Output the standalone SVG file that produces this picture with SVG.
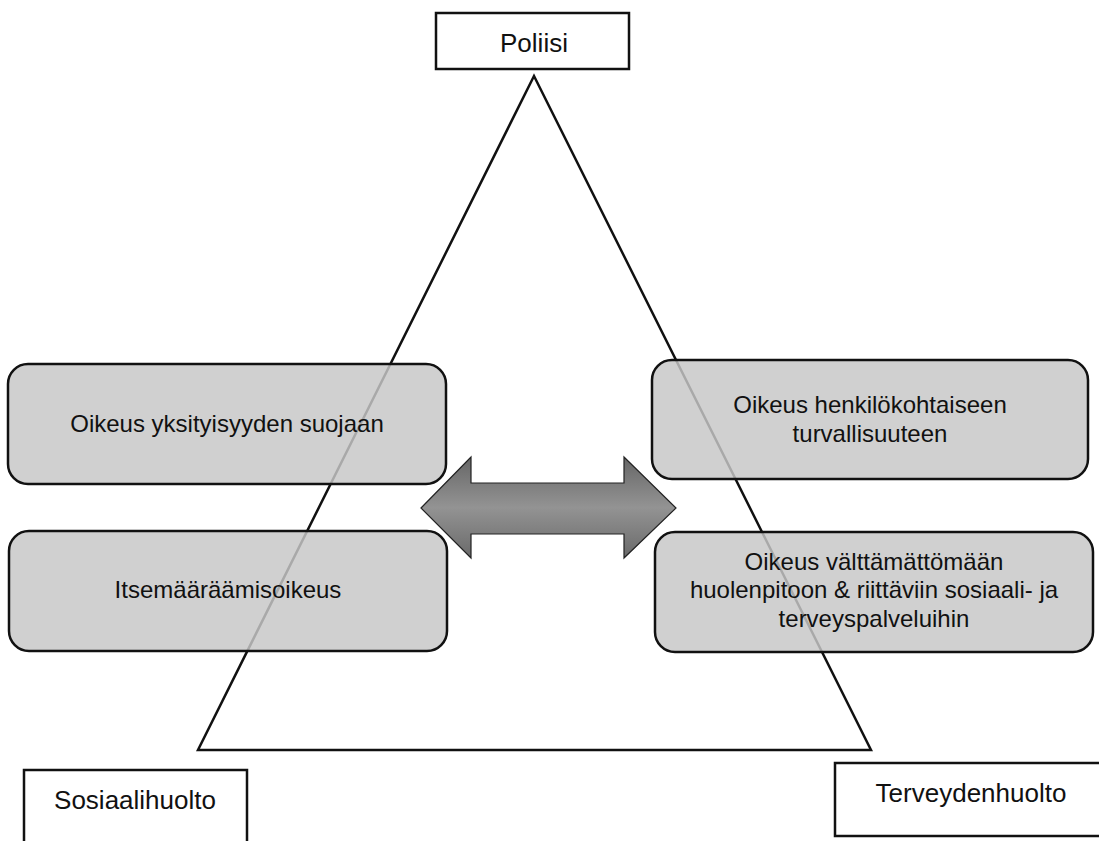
<svg xmlns="http://www.w3.org/2000/svg" width="1099" height="841" viewBox="0 0 1099 841">
<style>
.lbl{fill:#fff;stroke:#111;stroke-width:2.5}
.box{fill:#c7c7c7;fill-opacity:0.84;stroke:#111;stroke-width:2.5}
.t{font-family:"Liberation Sans",Arial,sans-serif;fill:#111;text-anchor:middle}
.tl{font-size:26px}
.tb{font-size:24px}
</style>
<defs>
<linearGradient id="ag" x1="0" y1="0" x2="0" y2="1">
<stop offset="0" stop-color="#666"/>
<stop offset="0.5" stop-color="#939393"/>
<stop offset="1" stop-color="#6a6a6a"/>
</linearGradient>
</defs>
<g id="triangle">
<polygon points="534,76 198,750 871,750" fill="none" stroke="#111" stroke-width="2.5"/>
</g>
<g id="poliisi">
<rect class="lbl" x="436" y="13" width="193" height="56"/>
<text class="t tl" x="534" y="52">Poliisi</text>
</g>
<g id="sosiaalihuolto">
<rect class="lbl" x="24" y="770" width="223" height="90"/>
<text class="t tl" x="135" y="809">Sosiaalihuolto</text>
</g>
<g id="terveydenhuolto">
<rect class="lbl" x="835" y="763" width="275" height="73"/>
<text class="t tl" x="971" y="802">Terveydenhuolto</text>
</g>
<g id="yksityisyys">
<rect class="box" x="8" y="364" width="438" height="120" rx="20"/>
<text class="t tb" x="227" y="432">Oikeus yksityisyyden suojaan</text>
</g>
<g id="itsemaaraamisoikeus">
<rect class="box" x="9" y="531" width="438" height="120" rx="20"/>
<text class="t tb" x="228" y="598">Itsemääräämisoikeus</text>
</g>
<g id="turvallisuus">
<rect class="box" x="652" y="360" width="436" height="119" rx="20"/>
<text class="t tb" x="870" y="413">Oikeus henkilökohtaiseen</text>
<text class="t tb" x="870" y="442">turvallisuuteen</text>
</g>
<g id="huolenpito">
<rect class="box" x="655" y="532" width="438" height="120" rx="20"/>
<text class="t tb" x="874" y="570">Oikeus välttämättömään</text>
<text class="t tb" x="874" y="598">huolenpitoon &amp; riittäviin sosiaali- ja</text>
<text class="t tb" x="874" y="627">terveyspalveluihin</text>
</g>
<g id="connectors">
<polygon points="421,508 471,457 471,483 624,483 624,457 676,508 624,558 624,534 471,534 471,558" fill="url(#ag)" stroke="#222" stroke-width="1.2" stroke-linejoin="miter"/>
</g>
</svg>
